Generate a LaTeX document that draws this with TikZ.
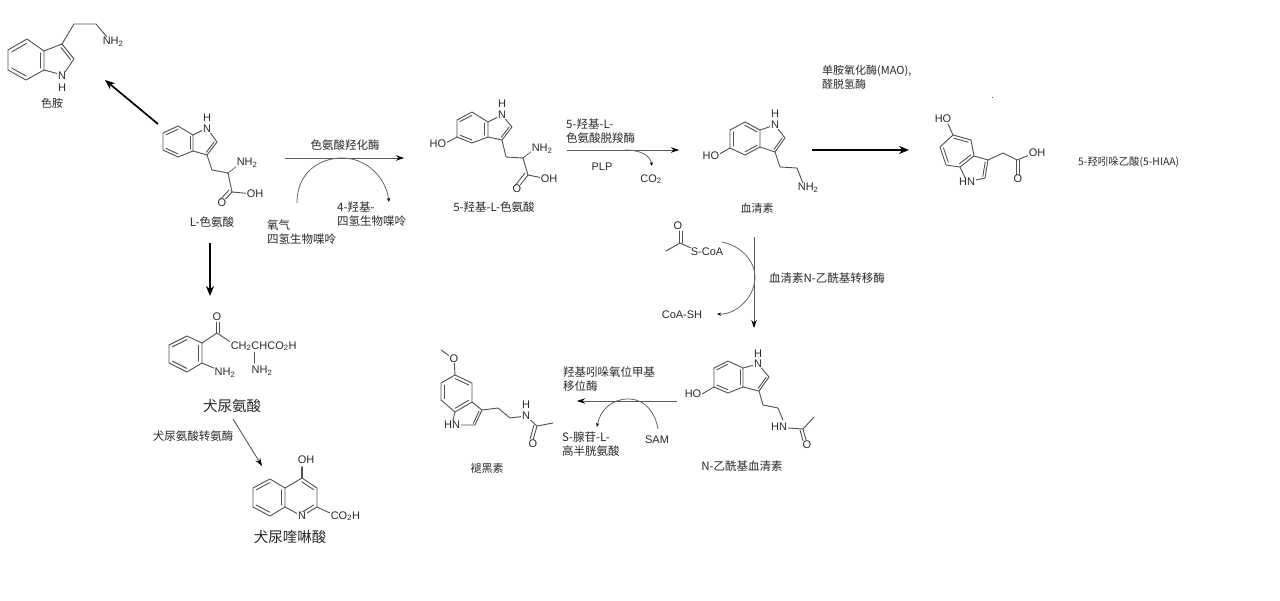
\documentclass[tikz,border=0pt]{standalone}
\usepackage{fontspec}
\setmainfont{Liberation Sans}
\newfontfamily\cjk{Noto Sans CJK SC}
\usetikzlibrary{arrows.meta,calc}
\definecolor{ink}{HTML}{2A2A2A}
\definecolor{bondc}{HTML}{505050}
\tikzset{
  bond/.style={draw=bondc,line width=0.9pt,line join=round,line cap=round},
  wbond/.style={draw=bondc,line width=1.4pt,line cap=round},
  atom/.style={inner sep=0.6pt,fill=white,text=ink,font=\fontsize{11}{12}\selectfont},
  captext/.style={inner sep=0pt,text=ink,font=\cjk\fontsize{11.5}{14}\selectfont,align=left},
  smallcap/.style={captext,font=\cjk\fontsize{11}{14}\selectfont},
  bigcap/.style={inner sep=0pt,text=black!85,font=\cjk\fontsize{14.5}{16}\selectfont},
  thinarrow/.style={draw=black!65,line width=0.9pt,-{Stealth[length=8pt,width=5.5pt,black]}},
  thickarrow/.style={draw=black,line width=1.7pt,-{Stealth[length=10pt,width=8pt]}},
  arcarrow/.style={draw=black!60,line width=0.8pt,-{Stealth[length=4pt,width=3.2pt,black]}},
}
\newcommand\inb[3]{\draw[bond] ($#1!.2!#3$) -- ($#2!.2!#3$);}
\begin{document}
\begin{tikzpicture}[x=1pt,y=-1pt]
\fill[white] (0,0) rectangle (1280,601);
\useasboundingbox (0,0) rectangle (1280,601);

% --- tryptamine
\draw[bond] (8,50)--(27,39)--(44,51)--(44,70)--(26,80)--(8,70)--cycle;
\inb{(8,50)}{(27,39)}{(26,60)}\inb{(44,51)}{(44,70)}{(26,60)}\inb{(26,80)}{(8,70)}{(26,60)}
\draw[bond] (44,51)--(62,44)--(74,59)--(63,75)--(44,70);
\inb{(62,44)}{(74,59)}{(57,62)}
\draw[bond] (62,44)--(74,24)--(96,24)--(107,37);
\node[atom] (tN) at (62,76) {N};
\node[atom] (tH) at (62,88) {H};
\node[atom,anchor=west] (tNH) at (102,42) {NH\textsubscript{2}};
\node[smallcap,anchor=center] (tlabel) at (52,103) {色胺};

% --- L-tryptophan
\draw[bond] (178,126)--(193,135)--(193,151)--(178,157)--(163,150)--(163,133)--cycle;
\inb{(178,126)}{(163,133)}{(178,142)}\inb{(193,135)}{(193,151)}{(178,142)}\inb{(178,157)}{(163,150)}{(178,142)}
\draw[bond] (193,135)--(207,128)--(217,142)--(207,155)--(193,151);
\inb{(217,142)}{(207,155)}{(203,142)}
\draw[bond] (207,155)--(212,170)--(228,173)--(232,192)--(254,194);
\draw[bond] (232,192)--(222,203);\draw[bond] (229,190)--(219,201);
\draw[bond,densely dotted] (228,173)--(237,166);
\node[atom] (wN) at (207,129) {N};
\node[atom] (wH) at (207,118) {H};
\node[atom,anchor=west] (wNH) at (236,163) {NH\textsubscript{2}};
\node[atom] (wO) at (222,203) {O};
\node[atom,anchor=west] (wOH) at (246,194) {OH};
\node[captext] (wlabel) at (212,222) {L-色氨酸};

% --- 5-hydroxytryptophan
\draw[bond] (472,112)--(488,122)--(488,137)--(472,143)--(457,137)--(457,120)--cycle;
\inb{(472,112)}{(457,120)}{(472,128)}\inb{(488,122)}{(488,137)}{(472,128)}\inb{(472,143)}{(457,137)}{(472,128)}
\draw[bond] (488,122)--(502,115)--(512,127)--(502,140)--(488,137);
\inb{(512,127)}{(502,140)}{(498,127)}
\draw[bond] (502,140)--(506,157)--(523,158)--(528,175)--(548,179);
\draw[bond] (528,175)--(517,189);\draw[bond] (525,173)--(514,187);
\draw[bond,densely dotted] (523,158)--(532,151);
\draw[bond] (457,137)--(444,144);
\node[atom] (hN) at (502,115) {N};
\node[atom] (hH) at (502,104) {H};
\node[atom,anchor=west] (hNH) at (531,149) {NH\textsubscript{2}};
\node[atom] (hO) at (517,189) {O};
\node[atom,anchor=west] (hOH) at (540,179) {OH};
\node[atom,anchor=east] (hHO) at (447,144) {HO};
\node[captext] (hlabel) at (494,207) {5-羟基-L-色氨酸};

% --- serotonin
\draw[bond] (745,122)--(760,130)--(760,147)--(745,155)--(730,148)--(730,130)--cycle;
\inb{(745,122)}{(760,130)}{(745,139)}\inb{(730,148)}{(730,130)}{(745,139)}\inb{(760,147)}{(745,155)}{(745,139)}
\draw[bond] (760,130)--(775,125)--(785,138)--(775,152)--(760,147);
\inb{(785,138)}{(775,152)}{(771,138)}
\draw[bond] (775,152)--(780,167)--(797,168)--(804,186);
\draw[bond] (730,148)--(716,156);
\node[atom] (sN) at (775,125) {N};
\node[atom] (sH) at (775,114) {H};
\node[atom,anchor=west] (sNH) at (797,188) {NH\textsubscript{2}};
\node[atom,anchor=east] (sHO) at (720,156) {HO};
\node[smallcap] (slabel) at (757,208) {血清素};

% --- 5-HIAA
\draw[bond] (953,135)--(971,140)--(974,156)--(960,167)--(946,165)--(940,147)--cycle;
\inb{(953,135)}{(971,140)}{(957,151)}\inb{(974,156)}{(960,167)}{(957,151)}\inb{(946,165)}{(940,147)}{(957,151)}
\draw[bond] (974,156)--(988,160)--(985,178)--(967,182)--(960,167);
\inb{(988,160)}{(985,178)}{(974,170)}
\draw[bond] (988,160)--(1003,153)--(1017,160)--(1032,154);
\draw[bond] (1016,160)--(1016,175);\draw[bond] (1019,160)--(1019,175);
\draw[bond] (948,124)--(953,135);
\node[atom] (aHN) at (967,182) {HN};
\node[atom] (aHO) at (943,119) {HO};
\node[atom] (aOH) at (1037,153) {OH};
\node[atom] (aO) at (1018,179) {O};
\node[captext,anchor=west,font=\cjk\fontsize{10.4}{14}\selectfont] (alabel) at (1078,162) {5-羟吲哚乙酸(5-HIAA)};
\fill[black!70] (992,97) rectangle (992.6,98.5);

% --- N-acetylserotonin
\draw[bond] (728,361)--(743,368)--(743,387)--(728,393)--(714,387)--(714,368)--cycle;
\inb{(728,361)}{(714,368)}{(728,377)}\inb{(743,368)}{(743,387)}{(728,377)}\inb{(728,393)}{(714,387)}{(728,377)}
\draw[bond] (743,368)--(758,364)--(769,377)--(759,391)--(743,387);
\inb{(769,377)}{(759,391)}{(755,378)}
\draw[bond] (759,391)--(763,405)--(778,408)--(783,420);
\draw[bond] (714,387)--(702,394);
\draw[bond] (788,428)--(803,429)--(814,417);
\draw[bond] (803,429)--(806,440);\draw[bond] (800,430)--(803,441);
\node[atom] (nN) at (758,364) {N};
\node[atom] (nH) at (758,354) {H};
\node[atom] (nHN) at (779,427) {HN};
\node[atom] (nO) at (807,445) {O};
\node[atom] (nHO) at (693,394) {HO};
\node[captext] (nlabel) at (742,466) {N-乙酰基血清素};

% --- melatonin
\draw[bond] (455,375)--(472,383)--(472,402)--(455,412)--(441,400)--(441,383)--cycle;
\inb{(455,375)}{(472,383)}{(456,393)}\inb{(472,402)}{(455,412)}{(456,393)}\inb{(441,400)}{(441,383)}{(456,393)}
\draw[bond] (472,402)--(482,410)--(475,425)--(452,425)--(455,412);
\inb{(482,410)}{(475,425)}{(467,416)}
\draw[bond] (482,410)--(498,408)--(510,418)--(526,416)--(537,426)--(553,423);
\draw[bond] (537,426)--(533,440);\draw[bond] (534,425)--(530,439);
\draw[bond] (455,375)--(454,359)--(441,350);
\node[atom] (mO) at (454,359) {O};
\node[atom] (mHN) at (452,425) {HN};
\node[atom] (mN) at (526,416) {N};
\node[atom] (mH) at (526,405) {H};
\node[atom] (mO2) at (533,444) {O};
\node[smallcap] (mlabel) at (487,468) {褪黑素};

% --- acetyl-CoA and CoA-SH
\draw[bond] (666,251)--(680,243)--(691,248);
\draw[bond] (679,243)--(679,231);\draw[bond] (682,243)--(682,231);
\node[atom] (acO) at (678,226) {O};
\node[atom] (acS) at (707,252) {S-CoA};
\node[atom] (coa) at (682,315) {CoA-SH};

% --- kynurenine
\draw[bond] (187,336)--(202,343)--(202,363)--(187,372)--(169,363)--(169,345)--cycle;
\inb{(187,336)}{(169,345)}{(186,354)}\inb{(202,343)}{(202,363)}{(186,354)}\inb{(187,372)}{(169,363)}{(186,354)}
\draw[bond] (202,343)--(217,333)--(232,343);
\draw[bond] (216,333)--(216,322);\draw[bond] (219,333)--(219,322);
\draw[bond] (202,363)--(216,369);
\draw[bond] (254,352)--(254,363);
\node[atom] (kO) at (217,317) {O};
\node[atom,anchor=west] (kCH) at (230,346) {CH\textsubscript{2}CHCO\textsubscript{2}H};
\node[atom] (kNH1) at (225,373) {NH\textsubscript{2}};
\node[atom] (kNH2) at (262,371) {NH\textsubscript{2}};
\node[bigcap] (klabel) at (232,406) {犬尿氨酸};

% --- kynurenic acid
\draw[bond] (302,478)--(317,488)--(317,507)--(302,516)--(285,507)--(285,488)--cycle;
\draw[bond] (285,488)--(270,479)--(253,488)--(253,507)--(270,516)--(285,507);
\inb{(302,478)}{(317,488)}{(301,497)}\inb{(317,507)}{(302,516)}{(301,497)}
\inb{(270,479)}{(253,488)}{(269,497)}\inb{(253,507)}{(270,516)}{(269,497)}\inb{(285,488)}{(285,507)}{(269,497)}
\draw[wbond] (302,478)--(302,467);
\draw[bond] (317,507)--(332,514);
\node[atom] (qOH) at (306,460) {OH};
\node[atom] (qN) at (302,516) {N};
\node[atom,anchor=west] (qCO) at (330,516) {CO\textsubscript{2}H};
\node[bigcap] (qlabel) at (290,537) {犬尿喹啉酸};

% --- free arrow ends
\coordinate (a1s) at (158,124); \coordinate (a1e) at (105,80);
\coordinate (a2s) at (285,158); \coordinate (a2e) at (404,158);
\coordinate (a3s) at (567,150); \coordinate (a3e) at (679,150);
\coordinate (a4s) at (812,150); \coordinate (a4e) at (909,150);
\coordinate (a5s) at (754,237); \coordinate (a5e) at (754,328);
\coordinate (a6s) at (677,401); \coordinate (a6e) at (577,401);
\coordinate (a7s) at (210,243); \coordinate (a7e) at (210,296);
\coordinate (a8s) at (233,419); \coordinate (a8e) at (262,466);
\coordinate (b1s) at (297,203); \coordinate (b1e) at (389,202);
\coordinate (b2s) at (625,150); \coordinate (b2e) at (652,166);
\coordinate (b3s) at (722,242); \coordinate (b3e) at (717,314);
\coordinate (b4s) at (658,429); \coordinate (b4e) at (597,427);

% --- reaction arrows
\draw[thickarrow] (a1s) -- (a1e);
\draw[thinarrow] (a2s) -- (a2e);
\draw[thinarrow] (a3s) -- (a3e);
\draw[thickarrow] (a4s) -- (a4e);
\draw[thinarrow] (a5s) -- (a5e);
\draw[thinarrow] (a6s) -- (a6e);
\draw[thickarrow] (a7s) -- (a7e);
\draw[thinarrow] (a8s) -- (a8e);

% --- cofactor arcs
\draw[arcarrow] (b1s) .. controls (297,172) and (320,158) .. (342,158) .. controls (367,158) and (386,178) .. (b1e);
\draw[arcarrow] (b2s) .. controls (640,150) and (650,155) .. (b2e);
\draw[arcarrow] (b3s) .. controls (742,246) and (755,262) .. (755,277) .. controls (755,298) and (735,315) .. (b3e);
\draw[arcarrow] (b4s) .. controls (655,412) and (645,399) .. (628,399) .. controls (612,399) and (600,410) .. (b4e);

% --- enzyme and cofactor texts
\node[captext] (e1) at (345,145) {色氨酸羟化酶};
\node[captext,anchor=west] (o2) at (267,232) {氧气\\四氢生物喋呤};
\node[captext,anchor=west] (bh4) at (337,214) {4-羟基-\\四氢生物喋呤};
\node[captext,anchor=west] (e2) at (566,131.5) {5-羟基-L-\\色氨酸脱羧酶};
\node[atom] (plp) at (602,167) {PLP};
\node[atom] (co2) at (651,179) {CO\textsubscript{2}};
\node[smallcap,anchor=west] (e3) at (822,77) {单胺氧化酶(MAO),\\醛脱氢酶};
\node[captext] (e4) at (827,278) {血清素N-乙酰基转移酶};
\node[captext,anchor=west] (e5) at (563,379.5) {羟基吲哚氧位甲基\\移位酶};
\node[atom] (sam) at (657,440) {SAM};
\node[captext,anchor=west] (sah) at (562,444.5) {S-腺苷-L-\\高半胱氨酸};
\node[captext] (e6) at (193,436) {犬尿氨酸转氨酶};
\end{tikzpicture}
\end{document}
